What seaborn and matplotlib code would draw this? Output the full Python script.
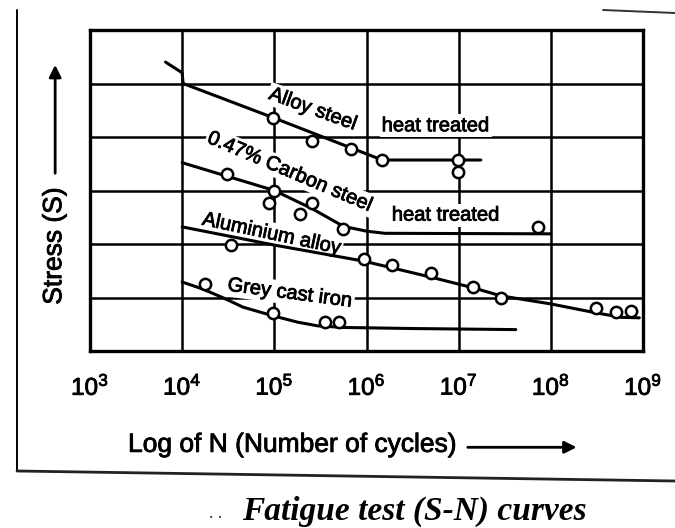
import matplotlib
matplotlib.use("Agg")
import matplotlib.pyplot as plt
import matplotlib.patheffects as pe
import numpy as np
import pandas as pd
import seaborn as sns
from matplotlib.lines import Line2D
from matplotlib.ticker import NullLocator

sns.set_theme(style="white")
plt.rcParams["font.family"] = ["Liberation Sans", "DejaVu Sans"]
plt.rcParams["mathtext.fontset"] = "custom"
plt.rcParams["mathtext.rm"] = "Liberation Sans"

# ---- data: log10(N) and stress (grid units) ----
decades = [3, 4, 5, 6, 7, 8, 9]
tick_labels = [r"$\mathregular{10^{%d}}$" % d for d in decades]

alloy_curve_logn = [3.82, 4.00, 4.01, 4.99, 6.17, 7.24]
alloy_curve_s = [5.40, 5.20, 5.00, 4.36, 3.57, 3.57]
alloy_pts_logn = [4.99, 5.41, 5.83, 6.17, 6.99, 6.99]
alloy_pts_s = [4.36, 3.93, 3.77, 3.57, 3.57, 3.35]

carbon_curve_logn = [4.00, 5.00, 5.41, 5.75, 6.00, 6.20, 8.00]
carbon_curve_s = [3.52, 3.00, 2.66, 2.33, 2.24, 2.20, 2.19]
carbon_pts_logn = [4.49, 5.00, 4.94, 5.41, 5.28, 5.75, 7.86]
carbon_pts_s = [3.30, 2.99, 2.77, 2.77, 2.57, 2.28, 2.32]

alum_curve_logn = [4.00, 5.00, 5.97, 6.70, 7.16, 7.46, 8.00, 8.47, 8.76, 8.96]
alum_curve_s = [2.32, 1.98, 1.68, 1.38, 1.18, 1.03, 0.88, 0.72, 0.63, 0.62]
alum_pts_logn = [4.53, 5.97, 6.28, 6.70, 7.16, 7.46, 8.49, 8.71, 8.87]
alum_pts_s = [1.98, 1.72, 1.61, 1.46, 1.20, 0.99, 0.81, 0.73, 0.75]

iron_curve_logn = [4.00, 4.22, 4.45, 4.66, 4.96, 5.25, 5.47, 5.75, 6.50, 7.62]
iron_curve_s = [1.29, 1.16, 0.99, 0.82, 0.67, 0.54, 0.47, 0.44, 0.42, 0.40]
iron_pts_logn = [4.25, 4.99, 5.55, 5.70]
iron_pts_s = [1.25, 0.71, 0.54, 0.54]

curves = [
    ("Alloy steel", alloy_curve_logn, alloy_curve_s, alloy_pts_logn, alloy_pts_s),
    ("0.47% Carbon steel", carbon_curve_logn, carbon_curve_s, carbon_pts_logn, carbon_pts_s),
    ("Aluminium alloy", alum_curve_logn, alum_curve_s, alum_pts_logn, alum_pts_s),
    ("Grey cast iron", iron_curve_logn, iron_curve_s, iron_pts_logn, iron_pts_s),
]

heavy = [pe.withStroke(linewidth=0.6, foreground="black")]

# ---- figure ----
fig = plt.figure(figsize=(6.75, 5.28), dpi=100)
fig.patch.set_facecolor("white")
ax = fig.add_axes([90 / 675, 177 / 528, 553 / 675, 321 / 528])
ax.set_facecolor("white")
ax.set_xscale("log")

for name, cx, cy, px, py in curves:
    line_df = pd.DataFrame({"N": np.power(10.0, cx), "S": cy})
    pts_df = pd.DataFrame({"N": np.power(10.0, px), "S": py})
    sns.lineplot(data=line_df, x="N", y="S", ax=ax, estimator=None, sort=False,
                 color="black", linewidth=2.2, zorder=3)
    sns.scatterplot(data=pts_df, x="N", y="S", ax=ax, marker="o", s=66,
                    facecolor="white", edgecolor="black", linewidth=1.8, zorder=4)

ax.set_xlim(10.0 ** decades[0], 10.0 ** decades[-1])
ax.set_ylim(0, 6)
ax.set_xticks([10.0 ** d for d in decades])
ax.set_xticklabels(tick_labels, fontsize=17.5)
for t in ax.get_xticklabels():
    t.set_path_effects(heavy)
ax.xaxis.set_minor_locator(NullLocator())
ax.set_yticks(range(0, 7))
ax.set_yticklabels([])
ax.tick_params(axis="both", length=0, colors="black")
ax.tick_params(axis="x", pad=17)

ax.set_axisbelow(True)
ax.grid(True, color="black", linewidth=1.8)
for sp in ax.spines.values():
    sp.set_visible(True)
    sp.set_color("black")
    sp.set_linewidth(2.4)

# curve labels (white box opens the grid behind the text)
label_style = dict(fontsize=14.5, color="black", ha="center", va="center",
                   rotation_mode="anchor", zorder=2, path_effects=heavy,
                   bbox=dict(facecolor="white", edgecolor="none", pad=1.5))
ax.text(10 ** 5.42, 4.52, "Alloy steel", rotation=-20, **label_style)
ax.text(10 ** 6.75, 4.21, "heat treated", rotation=0, **label_style)
ax.text(10 ** 5.17, 3.35, "0.47% Carbon steel", rotation=-23, **label_style)
ax.text(10 ** 6.86, 2.54, "heat treated", rotation=0, **label_style)
ax.text(10 ** 4.97, 2.19, "Aluminium alloy", rotation=-12, **label_style)
ax.text(10 ** 5.17, 1.08, "Grey cast iron", rotation=-7.5, **label_style)

# axis titles with arrows
ax.set_ylabel("Stress (S)", fontsize=19, color="black", path_effects=heavy)
ax.yaxis.set_label_coords(-0.043, 0.327)
ax.annotate("", xy=(-0.063, 0.90), xytext=(-0.063, 0.545), xycoords="axes fraction",
            arrowprops=dict(arrowstyle="-|>", color="black", lw=2.0, mutation_scale=18),
            annotation_clip=False)

ax.set_xlabel("Log of N (Number of cycles)", fontsize=19, color="black", path_effects=heavy)
ax.xaxis.set_label_coords(0.366, -0.255)
ax.annotate("", xy=(0.885, -0.30), xytext=(0.678, -0.30), xycoords="axes fraction",
            arrowprops=dict(arrowstyle="-|>", color="black", lw=2.0, mutation_scale=18),
            annotation_clip=False)

# page frame and caption
fig.add_artist(Line2D([17 / 675, 17 / 675], [1 - 10 / 528, 1 - 471 / 528],
                      color="black", lw=1.4))
fig.add_artist(Line2D([17 / 675, 1.0], [1 - 471 / 528, 1 - 481 / 528],
                      color="#222222", lw=2.0))
fig.add_artist(Line2D([603 / 675, 1.0], [1 - 10 / 528, 1 - 13 / 528],
                      color="#333333", lw=1.4))
fig.text(216 / 675, 1 - 514 / 528, ". .", fontsize=13, ha="center", va="center",
         family="Liberation Serif", color="#333333")
fig.text(414 / 675, 1 - 511 / 528, "Fatigue test (S-N) curves", fontsize=24,
         family="Liberation Serif", style="italic", weight="bold",
         ha="center", va="center", color="black")

fig.savefig("out.png", dpi=100, facecolor="white")
